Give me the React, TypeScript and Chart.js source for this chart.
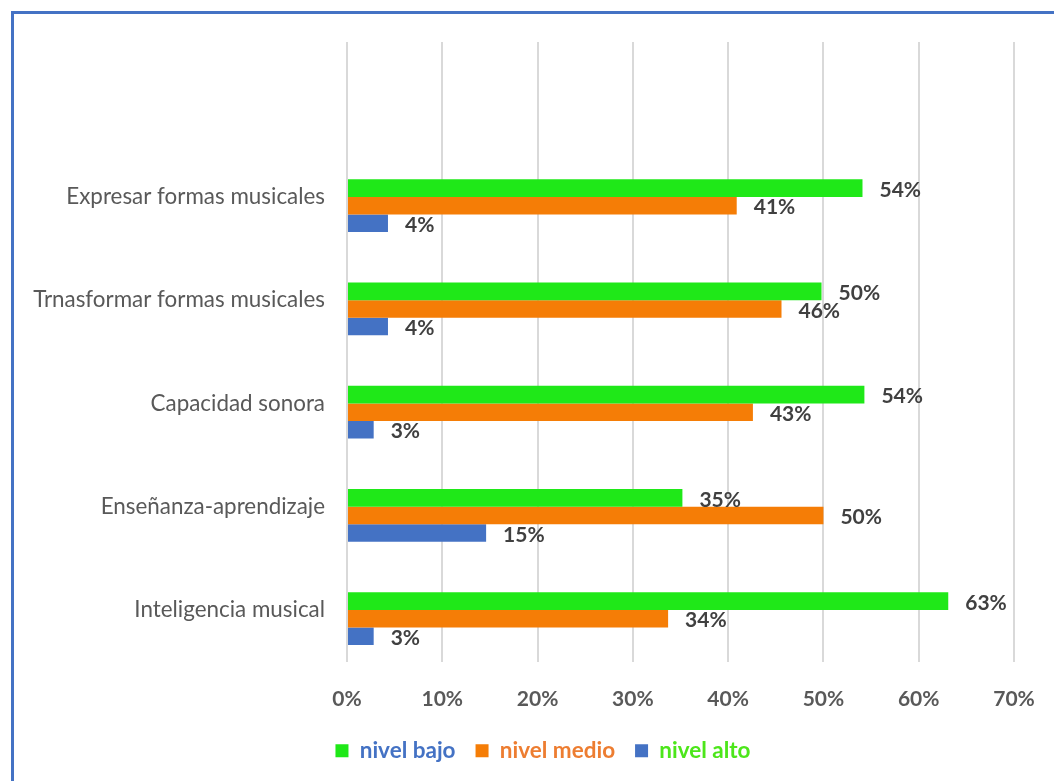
import React, { useEffect, useRef } from 'react';
import { Chart, registerables } from 'chart.js';

Chart.register(...registerables);

// Top band is an empty category row (as in the source chart)
const categories = [
  '',
  'Expresar formas musicales',
  'Trnasformar formas musicales',
  'Capacidad sonora',
  'Enseñanza-aprendizaje',
  'Inteligencia musical',
];
const seriesNames = ['nivel bajo', 'nivel medio', 'nivel alto'];
const nivelBajo = [null, 54.1, 49.8, 54.3, 35.2, 63.1];
const nivelMedio = [null, 40.9, 45.6, 42.6, 50.0, 33.7];
const nivelAlto = [null, 4.3, 4.3, 2.8, 14.6, 2.8];
const spacerSeries = [null, null, null, null, null, null];
const xTickValues = [0, 10, 20, 30, 40, 50, 60, 70];

const barColors = ['#1FE818', '#F57D06', '#4472C4'];
const legendTextColors = ['#4472C4', '#ED7D31', '#4CE61A'];

const FONT = 'Lato, "Open Sans", sans-serif';

const dataLabelPlugin = {
  id: 'dataLabels',
  afterDatasetsDraw(chart: any) {
    const ctx = chart.ctx;
    ctx.save();
    ctx.font = `bold 21px ${FONT}`;
    ctx.fillStyle = '#404040';
    ctx.textAlign = 'left';
    ctx.textBaseline = 'middle';
    chart.data.datasets.forEach((ds: any, di: number) => {
      if (di === 0) return;
      const meta = chart.getDatasetMeta(di);
      meta.data.forEach((el: any, i: number) => {
        const v = ds.data[i];
        if (v === null || v === undefined) return;
        ctx.fillText(`${Math.round(v)}%`, el.x + 17, el.y + 2);
      });
    });
    ctx.restore();
  },
};

// Centre the legend under the plot block the way the source chart does
const legendShiftPlugin = {
  id: 'legendShift',
  afterLayout(chart: any) {
    const lg = chart.legend;
    if (lg) {
      lg.left += 36;
      lg.right += 36;
    }
  },
};

export default function App() {
  const ref = useRef<HTMLCanvasElement | null>(null);

  useEffect(() => {
    if (!ref.current) return;
    const chart = new Chart(ref.current, {
      type: 'bar',
      data: {
        labels: categories,
        datasets: [
          { label: 'spacer', data: spacerSeries, backgroundColor: 'rgba(0,0,0,0)' },
          { label: seriesNames[0], data: nivelBajo, backgroundColor: barColors[0] },
          { label: seriesNames[1], data: nivelMedio, backgroundColor: barColors[1] },
          { label: seriesNames[2], data: nivelAlto, backgroundColor: barColors[2] },
        ] as any,
      },
      options: {
        indexAxis: 'y',
        responsive: false,
        animation: false,
        devicePixelRatio: 1,
        datasets: {
          bar: { categoryPercentage: 0.68, barPercentage: 1.0 },
        },
        layout: { padding: { left: 0, right: 40, top: 42, bottom: 9 } },
        scales: {
          x: {
            type: 'linear',
            min: 0,
            max: 70,
            afterBuildTicks(scale: any) {
              scale.ticks = xTickValues.map((v) => ({ value: v }));
            },
            afterFit(scale: any) {
              scale.height = 58;
              scale.paddingLeft = 0;
              scale.paddingRight = 0;
            },
            grid: { color: '#D9D9D9', lineWidth: 2, drawTicks: false },
            border: { display: false },
            ticks: {
              callback: (v: any) => `${v}%`,
              color: '#595959',
              font: { family: FONT, size: 21, weight: 'bold' },
              padding: 25,
              maxRotation: 0,
            },
          },
          y: {
            type: 'category',
            afterFit(scale: any) {
              scale.width = 347;
            },
            grid: { display: false, drawTicks: false },
            border: { display: false },
            ticks: {
              color: '#595959',
              font: { family: FONT, size: 22.4, weight: 'normal' },
              padding: 22,
              autoSkip: false,
            },
          },
        },
        plugins: {
          tooltip: { enabled: false },
          legend: {
            display: true,
            position: 'bottom',
            labels: {
              boxWidth: 13,
              boxHeight: 13,
              padding: 20,
              font: { family: FONT, size: 22.5, weight: 'bold' },
              filter: (item: any) => item.datasetIndex !== 0,
              generateLabels: (ch: any) =>
                ch.data.datasets.map((ds: any, i: number) => ({
                  text: ds.label,
                  fillStyle: ds.backgroundColor,
                  strokeStyle: ds.backgroundColor,
                  lineWidth: 0,
                  fontColor: i > 0 ? legendTextColors[i - 1] : '#000',
                  hidden: false,
                  datasetIndex: i,
                })),
            },
          },
        },
      },
      plugins: [dataLabelPlugin, legendShiftPlugin],
    } as any);
    return () => chart.destroy();
  }, []);

  return (
    <div style={{ position: 'fixed', left: 0, top: 0, width: 1054, height: 781, background: '#fff', overflow: 'hidden' }}>
      <div
        style={{
          position: 'absolute',
          left: 11,
          top: 11,
          width: 1100,
          height: 800,
          borderLeft: '3px solid #4472C4',
          borderTop: '3px solid #4472C4',
        }}
      />
      <canvas ref={ref} width={1054} height={781} style={{ position: 'absolute', left: 0, top: 0, width: 1054, height: 781 }} />
    </div>
  );
}
